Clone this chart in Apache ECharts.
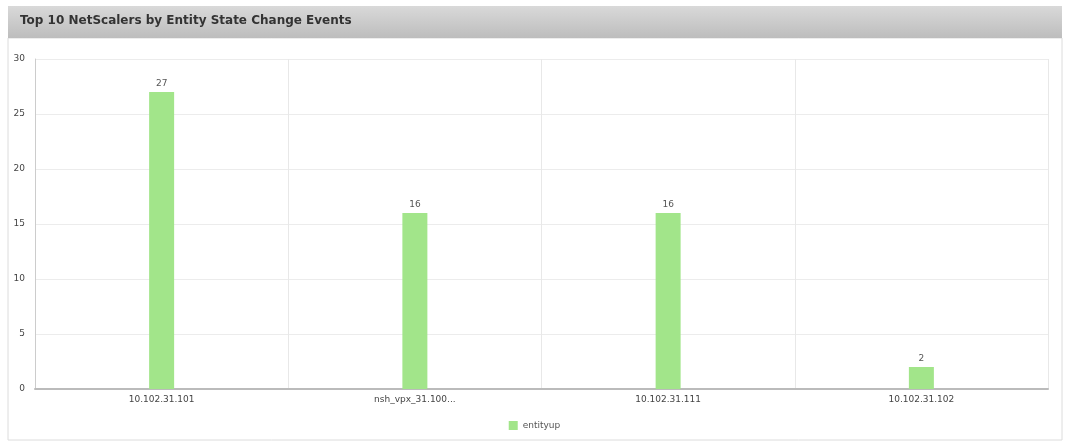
<!DOCTYPE html>
<html><head><meta charset="utf-8">
<script src="https://cdn.jsdelivr.net/npm/echarts@6/dist/echarts.min.js"></script>
<style>html,body{margin:0;padding:0;background:#fff}#c{width:1069px;height:443px}</style>
</head><body><div id="c"></div>
<script>
const categories = ['10.102.31.101', 'nsh_vpx_31.100...', '10.102.31.111', '10.102.31.102'];
const entityup = [27, 16, 16, 2];
const yTicks = [0, 5, 10, 15, 20, 25, 30];
const title = 'Top 10 NetScalers by Entity State Change Events';
const seriesName = 'entityup';

const chart = echarts.init(document.getElementById('c'));
chart.setOption({
  animation: false,
  backgroundColor: '#fff',
  graphic: [
    { type: 'rect', shape: { x: 8, y: 38, width: 1054, height: 402 }, style: { fill: '#fff', stroke: '#dcdcdc', lineWidth: 1 }, silent: true, z: -10 },
    { type: 'rect', shape: { x: 8, y: 6, width: 1054, height: 32 },
      style: { fill: new echarts.graphic.LinearGradient(0, 0, 0, 1, [{ offset: 0, color: '#d9d9d9' }, { offset: 1, color: '#bdbdbd' }]) }, silent: true, z: -9 },
    { type: 'text', left: 20, top: 15, style: { text: title, font: 'bold 12px "DejaVu Sans", sans-serif', fill: '#333' }, z: 10 }
  ],
  legend: {
    bottom: 8, left: 'center', itemWidth: 9, itemHeight: 9, icon: 'rect',
    textStyle: { fontSize: 9, color: '#555', fontFamily: '"DejaVu Sans", sans-serif' },
    data: [seriesName]
  },
  grid: { left: 35, right: 21, top: 59, bottom: 54, containLabel: false },
  xAxis: {
    type: 'category', data: categories,
    axisLine: { lineStyle: { color: '#bbb', width: 2 } },
    axisTick: { show: false },
    axisLabel: { fontSize: 9, color: '#444', margin: 6, fontFamily: '"DejaVu Sans", sans-serif' },
    splitLine: { show: true, lineStyle: { color: '#e8e8e8' } }
  },
  yAxis: {
    type: 'value', min: 0, max: 30, interval: 5,
    axisLine: { show: true, lineStyle: { color: '#ccc' } },
    axisTick: { show: false },
    axisLabel: { fontSize: 9, color: '#444', margin: 10, fontFamily: '"DejaVu Sans", sans-serif',
      formatter: v => yTicks.includes(v) ? String(v) : '' },
    splitLine: { lineStyle: { color: '#ececec' } }
  },
  series: [{
    name: seriesName, type: 'bar', data: entityup, barWidth: 25,
    itemStyle: { color: '#a2e58a' },
    label: { show: true, position: 'top', fontSize: 9, color: '#555', distance: 4, fontFamily: '"DejaVu Sans", sans-serif' }
  }]
});
</script></body></html>
